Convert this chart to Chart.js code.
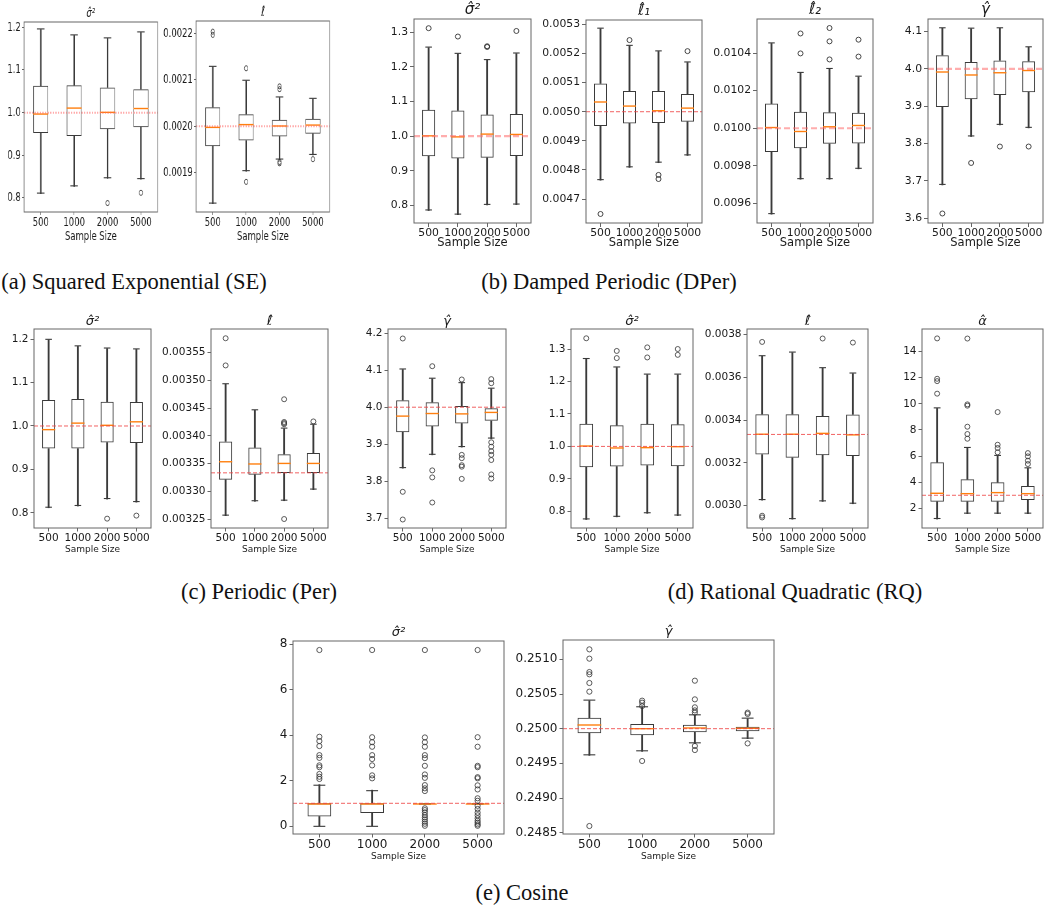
<!DOCTYPE html>
<html><head><meta charset="utf-8">
<script src="https://cdn.jsdelivr.net/npm/chart.js@4.4.1/dist/chart.umd.min.js"></script>
<style>
html,body{margin:0;padding:0;background:#fff;width:1044px;height:920px;overflow:hidden;position:relative;}
canvas{position:absolute;}
.cap{position:absolute;font-family:'Liberation Serif',serif;font-size:22.5px;color:#111;white-space:nowrap;transform:translate(-50%,-50%);}
</style></head><body>
<div class="cap" style="left:134px;top:282px">(a) Squared Exponential (SE)</div>
<div class="cap" style="left:609px;top:282px">(b) Damped Periodic (DPer)</div>
<div class="cap" style="left:259px;top:592px">(c) Periodic (Per)</div>
<div class="cap" style="left:795px;top:592px">(d) Rational Quadratic (RQ)</div>
<div class="cap" style="left:522px;top:893px">(e) Cosine</div>
<script>
// ---------- DATA ----------
const cats = ['500', '1000', '2000', '5000'];
// each row: [whisker low, Q1, median, Q3, whisker high]
// (a) SE
const seSig = [[0.810,0.952,0.995,1.063,1.195],[0.827,0.945,1.009,1.064,1.181],[0.846,0.961,0.999,1.059,1.174],[0.844,0.966,1.008,1.055,1.188]];
const seSigOut = [[],[],[0.788],[0.812]];
const seSigTicks = [0.8,0.9,1.0,1.1,1.2];
const seSigTrue = 1.0;
const seEll = [[0.001833,0.001957,0.001996,0.002041,0.002128],[0.001903,0.001969,0.002002,0.002026,0.002098],[0.001928,0.001978,0.001999,0.002014,0.002062],[0.001938,0.001984,0.002001,0.002016,0.002059]];
const seEllOut = [[0.002204,0.002197],[0.002125,0.001880],[0.002086,0.002080,0.001923,0.001920],[0.001929]];
const seEllTicks = [0.0019,0.0020,0.0021,0.0022];
const seEllTrue = 0.0020;
// (b) DPer
const dpSig = [[0.786,0.942,0.999,1.076,1.255],[0.774,0.936,0.996,1.074,1.237],[0.802,0.938,1.004,1.0625,1.219],[0.803,0.943,1.003,1.064,1.238]];
const dpSigOut = [[1.311],[1.287],[1.259,1.257],[1.303]];
const dpSigTicks = [0.8,0.9,1.0,1.1,1.2,1.3];
const dpSigTrue = 1.0;
const dpEll1 = [[0.004765,0.004951,0.005031,0.005097,0.005285],[0.004809,0.004960,0.005017,0.005071,0.005226],[0.004825,0.004961,0.005001,0.005071,0.005207],[0.004850,0.004966,0.005010,0.005061,0.005169]];
const dpEll1Out = [[0.004649],[0.005246],[0.004783,0.004769],[0.005208]];
const dpEll1Ticks = [0.0047,0.0048,0.0049,0.0050,0.0051,0.0052,0.0053];
const dpEll1True = 0.0050;
const dpEll2 = [[0.009543,0.009873,0.0100,0.010131,0.010451],[0.009729,0.009894,0.009979,0.010088,0.010294],[0.009729,0.009917,0.010004,0.010085,0.010315],[0.009784,0.009919,0.010011,0.010083,0.010274]];
const dpEll2Out = [[],[0.010504,0.010398],[0.010533,0.010462,0.010366],[0.010471,0.010381]];
const dpEll2Ticks = [0.0096,0.0098,0.0100,0.0102,0.0104];
const dpEll2True = 0.0100;
const dpGam = [[3.689,3.898,3.990,4.037,4.109],[3.819,3.919,3.982,4.019,4.108],[3.850,3.930,3.988,4.023,4.109],[3.842,3.9375,3.994,4.021,4.058]];
const dpGamOut = [[3.6125],[3.748],[3.792],[3.792]];
const dpGamTicks = [3.6,3.7,3.8,3.9,4.0,4.1];
const dpGamTrue = 4.0;
// (c) Per
const peSig = [[0.812,0.948,0.990,1.060,1.198],[0.816,0.948,1.005,1.062,1.183],[0.832,0.962,1.000,1.056,1.178],[0.825,0.961,1.008,1.055,1.176]];
const peSigOut = [[],[],[0.787],[0.794]];
const peSigTicks = [0.8,0.9,1.0,1.1,1.2];
const peSigTrue = 1.0;
const peEll = [[0.003256,0.003321,0.003352,0.003390,0.003493],[0.003282,0.003330,0.003348,0.003379,0.003446],[0.003283,0.003333,0.003349,0.003367,0.003413],[0.003303,0.003333,0.003349,0.003369,0.003420]];
const peEllOut = [[0.003576,0.003527],[],[0.003466,0.003425,0.003423,0.003421,0.003250],[0.003426]];
const peEllTicks = [0.00325,0.00330,0.00335,0.00340,0.00345,0.00350,0.00355];
const peEllTrue = 0.0033333;
const peGam = [[3.835,3.932,3.974,4.019,4.102],[3.871,3.948,3.981,4.0135,4.077],[3.892,3.956,3.980,4.003,4.065],[3.915,3.963,3.984,3.997,4.050]];
const peGamOut = [[4.186,3.771,3.696],[4.111,3.829,3.810,3.742],[4.075,3.871,3.862,3.843,3.839,3.806],[4.076,4.065,3.905,3.893,3.881,3.871,3.857,3.818,3.807]];
const peGamTicks = [3.7,3.8,3.9,4.0,4.1,4.2];
const peGamTrue = 4.0;
// (d) RQ
const rqSig = [[0.775,0.936,0.999,1.070,1.269],[0.783,0.938,0.993,1.065,1.243],[0.794,0.941,0.994,1.070,1.221],[0.787,0.939,0.997,1.068,1.221]];
const rqSigOut = [[1.333],[1.294,1.272],[1.305,1.274],[1.300,1.282]];
const rqSigTicks = [0.8,0.9,1.0,1.1,1.2,1.3];
const rqSigTrue = 1.0;
const rqEll = [[0.003026,0.003239,0.003331,0.003428,0.003699],[0.002937,0.003224,0.003331,0.003428,0.003716],[0.003020,0.003236,0.003335,0.003419,0.003643],[0.003009,0.003232,0.003328,0.003427,0.003618]];
const rqEllOut = [[0.003766,0.002953,0.002945],[],[0.003782],[0.003763]];
const rqEllTicks = [0.0030,0.0032,0.0034,0.0036,0.0038];
const rqEllTrue = 0.0033333;
const rqAlp = [[1.18,2.51,3.10,5.52,9.65],[1.59,2.51,3.07,4.22,6.62],[1.59,2.51,3.15,3.99,6.01],[1.59,2.64,3.07,3.71,5.06]];
const rqAlpOut = [[15.01,11.92,11.74,10.78],[15.0,9.96,9.86,8.25,7.69,7.33],[9.37,6.87,6.62,6.29],[6.23,5.98,5.65,5.39]];
const rqAlpTicks = [2,4,6,8,10,12,14];
const rqAlpTrue = 3.0;
// (e) Cosine
const coSig = [[0.01,0.42,1.0,1.0,1.82],[0.01,0.57,1.0,1.0,1.58],[1.0,1.0,1.0,1.0,1.0],[1.0,1.0,1.0,1.0,1.0]];
const coSigOut = [[7.75,3.93,3.74,3.52,3.12,3.00,2.67,2.59,2.29,2.17,2.07],[7.75,3.91,3.69,3.49,3.12,2.95,2.67,2.23,2.10],[7.75,3.90,3.69,3.49,3.12,2.99,2.65,2.27,2.12,1.80,1.66,1.54,0.78,0.70,0.60,0.48,0.38,0.29,0.19,0.10,0.01],[7.75,3.91,3.49,2.65,2.59,2.15,2.10,1.79,1.61,1.22,1.11,0.89,0.75,0.59,0.47,0.34,0.23,0.15,0.07,0.01]];
const coSigTicks = [0,2,4,6,8];
const coSigTrue = 1.0;
const coGam = [[0.249615,0.249933,0.250043,0.250159,0.250404],[0.249673,0.249904,0.249990,0.250067,0.250308],[0.249788,0.249947,0.25,0.250058,0.250192],[0.249856,0.249962,0.249995,0.250029,0.250144]];
const coGamOut = [[0.251144,0.251010,0.250817,0.250784,0.250659,0.250534,0.248596],[0.250404,0.250375,0.250327,0.249534],[0.250692,0.250423,0.250308,0.250264,0.250231,0.24975,0.249692],[0.250231,0.250212,0.249788]];
const coGamTicks = [0.2485,0.2490,0.2495,0.2500,0.2505,0.2510];
const coGamTrue = 0.25;

// ---------- TITLES ----------
const T_SIG = '\u03C3\u0302\u00B2', T_ELL = '\u2113\u0302', T_ELL1 = '\u2113\u0302\u2081', T_ELL2 = '\u2113\u0302\u2082', T_GAM = '\u03B3\u0302', T_ALP = '\u03B1\u0302';

// ---------- STYLE / LAYOUT ----------
const FAM = "'DejaVu Sans', sans-serif";
const refPink = {color:'rgba(255,105,105,0.55)', width:2.2, dash:[6,3]};
const refRed = {color:'rgba(238,70,70,0.85)', width:1, dash:[4,2]};
const ROW = {
  a: {sx:0.65, tick:13, title:13, xtitle:13, tickLen:3, yPad:2, xPad:0, tH:20, gap:8, xH:32, yW:60, rP:16, r:2.6, pbw:0.9, wT:1.6, ref:{color:'rgba(255,100,100,0.55)', width:2, dash:[2,2]}},
  b: {sx:1, tick:10.8, title:15, xtitle:11.5, tickLen:4, yPad:2, xPad:0, tH:20, gap:8, xH:27, yW:60, rP:16, r:2.5, pbw:0.9, wT:1.2, ref:refPink},
  c: {sx:1, tick:10.5, title:13, xtitle:9, tickLen:3.5, yPad:2, xPad:0, tH:20, gap:7, xH:27, yW:60, rP:16, r:2.5, pbw:0.8, wT:1.2, ref:refRed},
  e: {sx:1, tick:12, title:13, xtitle:9, tickLen:3.5, yPad:2, xPad:0, tH:20, gap:8, xH:28, yW:60, rP:16, r:2.6, pbw:0.8, wT:1.2, ref:refRed}
};
const panels = [
  {row:'a', title:T_SIG, stats:seSig, out:seSigOut, ticks:seSigTicks, ref:seSigTrue, lim:[0.767,1.2125], dec:1, frame:[24,22,157,212]},
  {row:'a', title:T_ELL, stats:seEll, out:seEllOut, ticks:seEllTicks, ref:seEllTrue, lim:[0.001815,0.002227], dec:4, frame:[196,21,329,212]},
  {row:'b', title:T_SIG, stats:dpSig, out:dpSigOut, ticks:dpSigTicks, ref:dpSigTrue, lim:[0.75,1.3375], dec:1, frame:[414,19,531,223]},
  {row:'b', title:T_ELL1, stats:dpEll1, out:dpEll1Out, ticks:dpEll1Ticks, ref:dpEll1True, lim:[0.004618,0.0053149], dec:4, frame:[586,20,702,223], refStyle:refRed},
  {row:'b', title:T_ELL2, stats:dpEll2, out:dpEll2Out, ticks:dpEll2Ticks, ref:dpEll2True, lim:[0.009496,0.010581], dec:4, frame:[757,19,873,223]},
  {row:'b', title:T_GAM, stats:dpGam, out:dpGamOut, ticks:dpGamTicks, ref:dpGamTrue, lim:[3.587,4.134], dec:1, frame:[928,19,1043,223]},
  {row:'c', title:T_SIG, stats:peSig, out:peSigOut, ticks:peSigTicks, ref:peSigTrue, lim:[0.7655,1.223], dec:1, frame:[34,329,151,528]},
  {row:'c', title:T_ELL, stats:peEll, out:peEllOut, ticks:peEllTicks, ref:peEllTrue, lim:[0.0032338,0.0035927], dec:5, frame:[211,329,328,528]},
  {row:'c', title:T_GAM, stats:peGam, out:peGamOut, ticks:peGamTicks, ref:peGamTrue, lim:[3.673,4.2117], dec:1, frame:[388,329,506,528]},
  {row:'c', title:T_SIG, stats:rqSig, out:rqSigOut, ticks:rqSigTicks, ref:rqSigTrue, lim:[0.7487,1.3616], dec:1, frame:[571,329,693,528]},
  {row:'c', title:T_ELL, stats:rqEll, out:rqEllOut, ticks:rqEllTicks, ref:rqEllTrue, lim:[0.0028956,0.0038265], dec:4, frame:[747,329,868,528]},
  {row:'c', title:T_ALP, stats:rqAlp, out:rqAlpOut, ticks:rqAlpTicks, ref:rqAlpTrue, lim:[0.495,15.73], dec:0, frame:[922,329,1043,528]},
  {row:'e', title:T_SIG, stats:coSig, out:coSigOut, ticks:coSigTicks, ref:coSigTrue, lim:[-0.352,8.147], dec:0, frame:[293,641,504,834]},
  {row:'e', title:T_GAM, stats:coGam, out:coGamOut, ticks:coGamTicks, ref:coGamTrue, lim:[0.248481,0.251279], dec:4, frame:[563,640,774,834]}
];

const BOX = '#3a3a3a', MED = '#ff7f0e', SPINE = '#666', TXT = '#1a1a1a';

const framePlugin = {
  id: 'frame',
  afterDatasetsDraw(chart, args, o) {
    const {ctx, chartArea: a} = chart;
    const y = chart.scales.y.getPixelForValue(o.ref);
    ctx.save();
    ctx.beginPath(); ctx.rect(a.left, a.top, a.right - a.left, a.bottom - a.top); ctx.clip();
    ctx.strokeStyle = o.style.color; ctx.lineWidth = o.style.width; ctx.setLineDash(o.style.dash);
    ctx.beginPath(); ctx.moveTo(a.left, y); ctx.lineTo(a.right, y); ctx.stroke();
    ctx.restore();
  },
  afterDraw(chart) {
    const {ctx, chartArea: a} = chart;
    ctx.save(); ctx.strokeStyle = SPINE; ctx.lineWidth = 1;
    ctx.strokeRect(a.left, a.top, a.right - a.left, a.bottom - a.top);
    ctx.restore();
  }
};

function makePanel(p) {
  const st = ROW[p.row];
  const [L, T, R, B] = p.frame;
  const sx = st.sx;
  const pxW = Math.round((R - L) / sx + st.yW + st.rP);
  const pxH = Math.round(st.tH + (B - T) + st.xH);
  const cv = document.createElement('canvas');
  cv.width = pxW; cv.height = pxH;
  cv.style.left = (L - st.yW * sx) + 'px';
  cv.style.top = (T - st.tH) + 'px';
  cv.style.width = (pxW * sx) + 'px';
  cv.style.height = pxH + 'px';
  document.body.appendChild(cv);

  const lh = 1.2 * st.title;
  const pb = Math.max(0, st.gap - lh / 2);
  const pt = Math.max(0, st.tH - lh - pb);

  const pts = [];
  p.out.forEach((arr, i) => arr.forEach(v => pts.push({x: cats[i], y: v})));
  const common = {categoryPercentage: 1, grouped: false};
  const datasets = [
    {type:'line', data: pts, showLine:false, pointRadius: st.r, pointHoverRadius: st.r, pointStyle:'circle',
     pointBackgroundColor:'rgba(0,0,0,0)', pointBorderColor:'#333', pointBorderWidth: st.pbw, order:0},
    {...common, data: p.stats.map(s => [s[2], s[2]]), backgroundColor: MED, borderWidth:0, minBarLength:1.4, barPercentage:0.45, order:1},
    {...common, data: p.stats.map(s => [s[1], s[3]]), backgroundColor:'rgba(0,0,0,0)', borderColor: BOX, borderWidth:1, borderSkipped:false, barPercentage:0.45, order:2},
    {...common, data: p.stats.map(s => [s[0], s[1]]), backgroundColor: BOX, borderWidth:0, barThickness: st.wT, order:3},
    {...common, data: p.stats.map(s => [s[3], s[4]]), backgroundColor: BOX, borderWidth:0, barThickness: st.wT, order:3},
    {...common, data: p.stats.map(s => [s[0], s[0]]), backgroundColor: BOX, borderWidth:0, minBarLength:1.1, barPercentage:0.225, order:3},
    {...common, data: p.stats.map(s => [s[4], s[4]]), backgroundColor: BOX, borderWidth:0, minBarLength:1.1, barPercentage:0.225, order:3}
  ];

  new Chart(cv, {
    type: 'bar',
    data: {labels: cats, datasets},
    plugins: [framePlugin],
    options: {
      responsive: false, animation: false, devicePixelRatio: 1, events: [],
      layout: {padding: {left: 0, top: 0, right: st.rP, bottom: 0}},
      plugins: {
        legend: {display: false}, tooltip: {enabled: false},
        title: {display: true, text: p.title, fullSize: false, color: TXT,
                font: {family: FAM, size: st.title, style: 'italic', weight: 'normal', lineHeight: 1.2},
                padding: {top: pt, bottom: pb}},
        frame: {ref: p.ref, style: p.refStyle || st.ref}
      },
      scales: {
        x: {type: 'category', offset: true,
            grid: {display: true, drawOnChartArea: false, drawTicks: true, tickLength: st.tickLen, color: SPINE, offset: false},
            border: {display: false},
            ticks: {autoSkip: false, maxRotation: 0, minRotation: 0, padding: st.xPad, color: TXT, font: {family: FAM, size: st.tick}},
            title: {display: true, text: 'Sample Size', color: TXT, padding: {top: 0, bottom: 0}, font: {family: FAM, size: st.xtitle, lineHeight: 1.2}},
            afterFit: s => { s.height = st.xH; }},
        y: {type: 'linear', min: p.lim[0], max: p.lim[1], bounds: 'data',
            grid: {display: true, drawOnChartArea: false, drawTicks: true, tickLength: st.tickLen, color: SPINE},
            border: {display: false},
            ticks: {autoSkip: false, includeBounds: false, padding: st.yPad, color: TXT, font: {family: FAM, size: st.tick},
                    callback: v => Number(v).toFixed(p.dec)},
            afterBuildTicks: s => { s.ticks = p.ticks.map(v => ({value: v})); },
            afterFit: s => { s.width = st.yW; }}
      }
    }
  });
}
panels.forEach(makePanel);
</script>
</body></html>
